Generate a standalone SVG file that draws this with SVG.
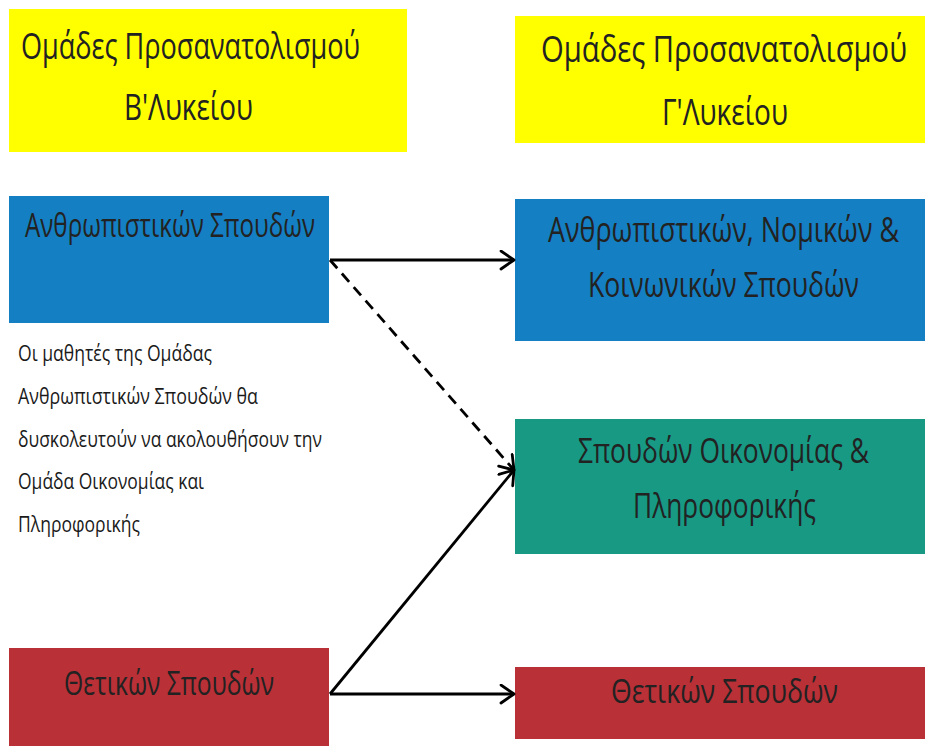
<svg xmlns="http://www.w3.org/2000/svg" width="925" height="751" viewBox="0 0 925 751">
<style>
.t{font-family:"Open Sans","DejaVu Sans",sans-serif;fill:#222;}
.p{font-family:"Open Sans","DejaVu Sans",sans-serif;fill:#1a1a1a;font-size:21px;}
.ln{fill:none;stroke:#000;stroke-width:2.8;}
</style>
<defs>
<marker id="ah" markerUnits="userSpaceOnUse" markerWidth="20" markerHeight="22" refX="15" refY="10" orient="auto" viewBox="0 0 20 22">
<path d="M2,1 L15,10 L2,19" fill="none" stroke="#000" stroke-width="2.8" stroke-linecap="round" stroke-linejoin="round"/>
</marker>
</defs>
<rect width="925" height="751" fill="#fff"/>
<g id="title-b">
<rect x="9" y="9" width="398" height="143" fill="#ffff00"/>
<text class="t" x="21" y="59" font-size="37" textLength="339" lengthAdjust="spacingAndGlyphs">Ομάδες Προσανατολισμού</text>
<text class="t" x="124" y="120" font-size="37" textLength="129" lengthAdjust="spacingAndGlyphs">Β'Λυκείου</text>
</g>
<g id="title-c">
<rect x="515" y="16" width="410" height="127" fill="#ffff00"/>
<text class="t" x="541" y="62" font-size="37" textLength="366" lengthAdjust="spacingAndGlyphs">Ομάδες Προσανατολισμού</text>
<text class="t" x="662" y="125" font-size="37" textLength="126" lengthAdjust="spacingAndGlyphs">Γ'Λυκείου</text>
</g>
<g id="b-anthr">
<rect x="9" y="196" width="320" height="127" fill="#157fc3"/>
<text class="t" x="25" y="237" font-size="33" textLength="290" lengthAdjust="spacingAndGlyphs">Ανθρωπιστικών Σπουδών</text>
</g>
<g id="note">
<text class="p" x="18" y="361" textLength="194" lengthAdjust="spacingAndGlyphs">Οι μαθητές της Ομάδας</text>
<text class="p" x="18" y="404" textLength="240" lengthAdjust="spacingAndGlyphs">Ανθρωπιστικών Σπουδών θα</text>
<text class="p" x="18" y="447" textLength="304" lengthAdjust="spacingAndGlyphs">δυσκολευτούν να ακολουθήσουν την</text>
<text class="p" x="18" y="489" textLength="186" lengthAdjust="spacingAndGlyphs">Ομάδα Οικονομίας και</text>
<text class="p" x="18" y="532" textLength="122" lengthAdjust="spacingAndGlyphs">Πληροφορικής</text>
</g>
<g id="b-thet">
<rect x="9" y="648" width="320" height="98" fill="#b93037"/>
<text class="t" x="64" y="695" font-size="33" textLength="210" lengthAdjust="spacingAndGlyphs">Θετικών Σπουδών</text>
</g>
<g id="c-anthr">
<rect x="515" y="199" width="410" height="142" fill="#157fc3"/>
<text class="t" x="548" y="242" font-size="34" textLength="351" lengthAdjust="spacingAndGlyphs">Ανθρωπιστικών, Νομικών &amp;</text>
<text class="t" x="588" y="297" font-size="34" textLength="271" lengthAdjust="spacingAndGlyphs">Κοινωνικών Σπουδών</text>
</g>
<g id="c-oik">
<rect x="515" y="419" width="410" height="135" fill="#179984"/>
<text class="t" x="578" y="463" font-size="34" textLength="291" lengthAdjust="spacingAndGlyphs">Σπουδών Οικονομίας &amp;</text>
<text class="t" x="633" y="518" font-size="34" textLength="183" lengthAdjust="spacingAndGlyphs">Πληροφορικής</text>
</g>
<g id="c-thet">
<rect x="515" y="667" width="410" height="72" fill="#b93037"/>
<text class="t" x="611" y="703" font-size="32" textLength="227" lengthAdjust="spacingAndGlyphs">Θετικών Σπουδών</text>
</g>
<g id="connectors">
<line class="ln" x1="330" y1="260" x2="514" y2="260" marker-end="url(#ah)"/>
<line class="ln" x1="330" y1="260" x2="514" y2="470" stroke-dasharray="11 7" marker-end="url(#ah)"/>
<line class="ln" x1="330" y1="694" x2="514" y2="470" marker-end="url(#ah)"/>
<line class="ln" x1="330" y1="694" x2="514" y2="694" marker-end="url(#ah)"/>
</g>
</svg>
